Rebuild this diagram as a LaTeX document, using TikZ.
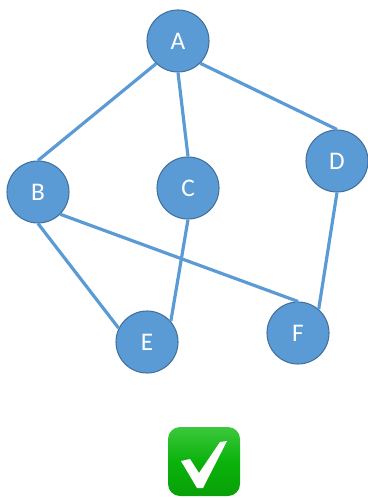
\documentclass[tikz,border=0pt]{standalone}
\usepackage{fontspec}
\setmainfont{Carlito}
\definecolor{nodefill}{HTML}{5B9BD5}
\definecolor{nodeline}{HTML}{41719C}
\definecolor{edgeblue}{HTML}{5B9BD5}
\definecolor{boxgreen}{HTML}{0BB20B}
\definecolor{boxtop}{HTML}{3CC83C}
\definecolor{boxbottom}{HTML}{08A008}
\newlength{\px}\setlength{\px}{0.75pt}
\tikzset{
  vertex/.style={circle,draw=nodeline,line width=0.8pt,fill=nodefill,minimum size=62\px,inner sep=0pt,text=white,font=\fontsize{19}{19}\selectfont},
  edge/.style={draw=edgeblue,line width=2.4pt},
}
\begin{document}
\begin{tikzpicture}[x=0.75pt,y=-0.75pt]
\useasboundingbox (0,0) rectangle (367,498);
\node[vertex] (A) at (178,41) {A};
\node[vertex] (B) at (38,192) {B};
\node[vertex] (C) at (188,188) {C};
\node[vertex] (D) at (337,161) {D};
\node[vertex] (E) at (147,342) {E};
\node[vertex] (F) at (298,333) {F};
\draw[edge] (A.226) -- (B.90);
\draw[edge] (A.270) -- (C.90);
\draw[edge] (A.-45) -- (D.90);
\draw[edge] (B.270) -- (E.154);
\draw[edge] (B.-45) -- (F.90);
\draw[edge] (C.270) -- (E.41);
\draw[edge] (D.270) -- (F.49);
\shade[top color=boxtop,bottom color=boxbottom,middle color=boxgreen,rounded corners=12\px] (168,427) rectangle (240,496);
\fill[white] (181,461) -- (190,459) -- (199,473) -- (220,442) -- (227,441) -- (203,488) -- (197,488) -- cycle;
\end{tikzpicture}
\end{document}
